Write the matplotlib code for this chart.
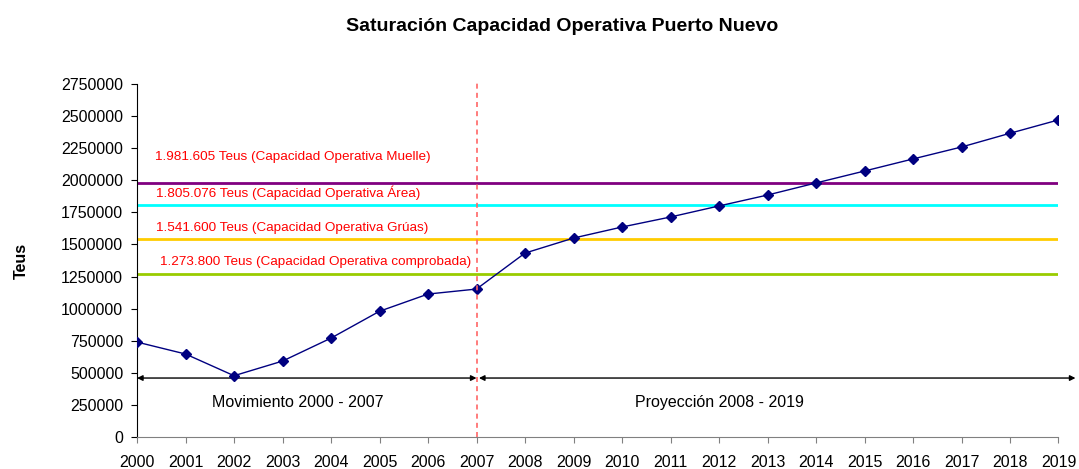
import matplotlib
matplotlib.use("Agg")
from matplotlib import pyplot as plt
from matplotlib.ticker import StrMethodFormatter

plt.rcParams['font.family'] = ['Liberation Sans', 'DejaVu Sans']

# datos
years = list(range(2000, 2020))
teus = [740000, 647000, 478000, 592000, 771000, 980000, 1114000, 1153000,
        1433000, 1550000, 1636000, 1714000, 1800000, 1885000, 1979000,
        2072000, 2166000, 2259000, 2366000, 2470000]

cap_values = [1981605, 1805076, 1541600, 1273800]
cap_labels = ["1.981.605 Teus (Capacidad Operativa Muelle)",
              "1.805.076 Teus (Capacidad Operativa Área)",
              "1.541.600 Teus (Capacidad Operativa Grúas)",
              "1.273.800 Teus (Capacidad Operativa comprobada)"]
cap_colors = ["#800080", "#00FFFF", "#FFCC00", "#99CC00"]
label_pos = [(2000.37, 2180000), (2000.40, 1900000), (2000.40, 1628000), (2000.47, 1362000)]

fig = plt.figure(figsize=(10.79, 4.69), dpi=100)
ax = fig.add_axes([0.127, 0.068, 0.854, 0.753])

for v, c in zip(cap_values, cap_colors):
    ax.axhline(v, color=c, lw=2, zorder=2)
for lab, (lx, ly) in zip(cap_labels, label_pos):
    ax.text(lx, ly, lab, color="#FF0000", fontsize=9.7, va="center", ha="left")

ax.plot(years, teus, color="#000080", lw=1, marker="D", markersize=5, zorder=4)

# linea de corte 2007
ax.plot([2007, 2007], [0, 2765000], color="#FF6666", lw=1.2, ls=(0, (3, 2.5)),
        zorder=5, clip_on=False)

# flechas de periodos
arr = dict(arrowstyle="<|-|>", color="black", lw=1, mutation_scale=8,
           shrinkA=0, shrinkB=0)
ax.annotate("", xy=(2000, 460000), xytext=(2007, 460000), arrowprops=arr,
            annotation_clip=False)
ax.annotate("", xy=(2007.05, 460000), xytext=(2019.35, 460000), arrowprops=arr,
            annotation_clip=False)
ax.text(2003.32, 270000, "Movimiento 2000 - 2007", fontsize=11.5, ha="center", va="center")
ax.text(2012.0, 270000, "Proyección 2008 - 2019", fontsize=11.5, ha="center", va="center")

ax.set_xlim(2000, 2019)
ax.set_ylim(0, 2750000)
ax.set_xticks(years)
ax.set_yticks(range(0, 2750001, 250000))
ax.yaxis.set_major_formatter(StrMethodFormatter("{x:.0f}"))
ax.tick_params(axis="both", labelsize=11.5, length=4)
ax.tick_params(axis="y", pad=6)
ax.tick_params(axis="x", color="#808080", pad=9)
ax.spines["top"].set_visible(False)
ax.spines["right"].set_visible(False)
ax.spines["bottom"].set_color("#808080")

ax.set_ylabel("Teus", fontsize=11.5, fontweight="bold")
ax.yaxis.set_label_coords(-0.117, 0.5)
fig.text(0.521, 0.943, "Saturación Capacidad Operativa Puerto Nuevo",
         fontsize=14, fontweight="bold", ha="center", va="center")

fig.savefig("out.png", dpi=100)
